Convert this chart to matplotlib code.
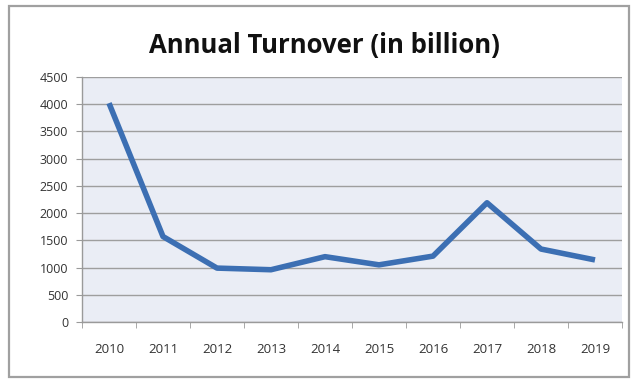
import matplotlib
matplotlib.use("Agg")
import matplotlib.pyplot as plt
from matplotlib.patches import Rectangle
from matplotlib.ticker import FixedLocator, NullFormatter

years = ["2010", "2011", "2012", "2013", "2014", "2015", "2016", "2017", "2018", "2019"]
turnover = [4020, 1570, 990, 960, 1200, 1050, 1210, 2190, 1340, 1140]
y_ticks = [0, 500, 1000, 1500, 2000, 2500, 3000, 3500, 4000, 4500]

fig = plt.figure(figsize=(6.35, 3.79), dpi=100)
fig.patch.set_facecolor("white")

# chart frame
fig.add_artist(Rectangle((9 / 635, 2 / 379), 620 / 635, 371 / 379,
                         transform=fig.transFigure, fill=False,
                         edgecolor="#a0a0a0", linewidth=1.6))

ax = fig.add_axes([82 / 635, 1 - 322 / 379, 540 / 635, 245 / 379])
ax.set_facecolor("#eaedf5")

x = list(range(len(years)))
ax.plot(x, turnover, color="#3c6fb3", linewidth=4.0, solid_joinstyle="round",
        solid_capstyle="butt", zorder=3)

ax.set_xlim(-0.5, len(years) - 0.5)
ax.set_ylim(0, 4500)
ax.set_yticks(y_ticks)
ax.set_yticklabels([str(v) for v in y_ticks])
ax.set_xticks(x)
ax.set_xticklabels(years)
ax.xaxis.set_minor_locator(FixedLocator([i - 0.5 for i in range(len(years) + 1)]))
ax.xaxis.set_minor_formatter(NullFormatter())

ax.grid(axis="y", color="#9e9e9e", linewidth=1.0, zorder=1)
ax.set_axisbelow(True)

for side in ["top", "right"]:
    ax.spines[side].set_visible(False)
for side in ["left", "bottom"]:
    ax.spines[side].set_color("#9a9a9a")
    ax.spines[side].set_linewidth(1.0)

ax.tick_params(axis="y", which="major", length=4, color="#9a9a9a", pad=6,
               labelsize=9, labelcolor="#333333")
ax.tick_params(axis="x", which="major", length=0, pad=15,
               labelsize=9.5, labelcolor="#333333")
ax.tick_params(axis="x", which="minor", length=4, color="#9a9a9a")

for lbl in ax.get_xticklabels() + ax.get_yticklabels():
    lbl.set_family("Open Sans")

fig.text(324 / 635, 1 - 45 / 379, "Annual Turnover (in billion)",
         ha="center", va="center", fontsize=18.5, fontweight="bold",
         family="Open Sans", color="#111111")

fig.savefig("out.png", dpi=100)
